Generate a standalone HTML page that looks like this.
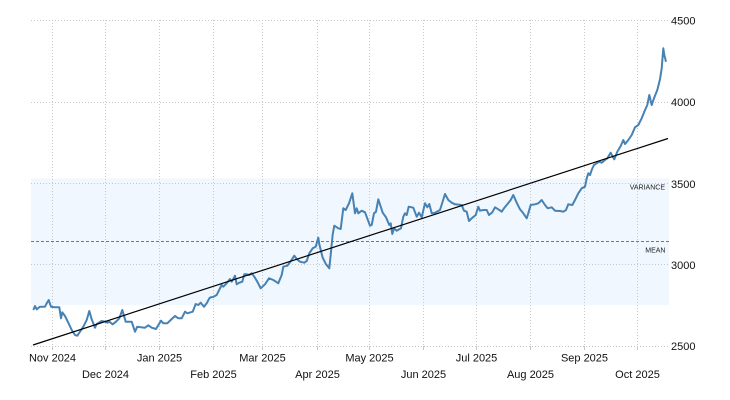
<!DOCTYPE html>
<html><head><meta charset="utf-8"><style>
html,body{margin:0;padding:0;background:#fff;}
svg{display:block;}
text{font-family:"Liberation Sans",Arial,sans-serif;}
</style></head><body>
<svg width="730" height="400" viewBox="0 0 730 400" xmlns="http://www.w3.org/2000/svg">
<rect x="0" y="0" width="730" height="400" fill="#fff"/>
<rect x="31" y="178.5" width="638" height="126.5" fill="#f0f7fe"/>
<g stroke="#c8c8c8" stroke-width="1" stroke-dasharray="1,2" fill="none">
<line x1="31" y1="20.5" x2="669" y2="20.5"/>
<line x1="31" y1="102.5" x2="669" y2="102.5"/>
<line x1="31" y1="183.5" x2="669" y2="183.5"/>
<line x1="31" y1="264.5" x2="669" y2="264.5"/>
<line x1="31" y1="346.5" x2="669" y2="346.5"/>
<line x1="52.5" y1="20" x2="52.5" y2="346"/>
<line x1="105.5" y1="20" x2="105.5" y2="346"/>
<line x1="159.5" y1="20" x2="159.5" y2="346"/>
<line x1="213.5" y1="20" x2="213.5" y2="346"/>
<line x1="262.5" y1="20" x2="262.5" y2="346"/>
<line x1="317.5" y1="20" x2="317.5" y2="346"/>
<line x1="369.5" y1="20" x2="369.5" y2="346"/>
<line x1="423.5" y1="20" x2="423.5" y2="346"/>
<line x1="476.5" y1="20" x2="476.5" y2="346"/>
<line x1="530.5" y1="20" x2="530.5" y2="346"/>
<line x1="584.5" y1="20" x2="584.5" y2="346"/>
<line x1="637.5" y1="20" x2="637.5" y2="346"/>
</g>
<g stroke="#c8c8c8" stroke-width="1">
<line x1="52.5" y1="346" x2="52.5" y2="350"/>
<line x1="105.5" y1="346" x2="105.5" y2="350"/>
<line x1="159.5" y1="346" x2="159.5" y2="350"/>
<line x1="213.5" y1="346" x2="213.5" y2="350"/>
<line x1="262.5" y1="346" x2="262.5" y2="350"/>
<line x1="317.5" y1="346" x2="317.5" y2="350"/>
<line x1="369.5" y1="346" x2="369.5" y2="350"/>
<line x1="423.5" y1="346" x2="423.5" y2="350"/>
<line x1="476.5" y1="346" x2="476.5" y2="350"/>
<line x1="530.5" y1="346" x2="530.5" y2="350"/>
<line x1="584.5" y1="346" x2="584.5" y2="350"/>
<line x1="637.5" y1="346" x2="637.5" y2="350"/>
</g>
<line x1="31" y1="241.5" x2="669" y2="241.5" stroke="#777" stroke-width="1" stroke-dasharray="3,2"/>
<text x="665" y="189.5" font-size="7" fill="#222" text-anchor="end">VARIANCE</text>
<text x="665.5" y="252.5" font-size="7" fill="#222" text-anchor="end">MEAN</text>
<polyline fill="none" stroke="#4682b4" stroke-width="2" stroke-linejoin="round" points="
33.3,310 35,306 36.7,309.3 40,306.7 45,306.7 46.7,303.3 48.7,300 51,306.7 55,307.3 59.3,307.3 61,318.3 62.3,312.3 65,316 68.3,322.7 71.7,330 75,335 77.3,335.7 80,331.7 83.3,326.7 86.7,320 89.3,311 91.7,319.3 95,327.7 96.7,324 101.7,321 105,321.7 107.7,322.7 109.3,321.7 112.7,324.3 116,321.7 119.3,318.3 122.3,310 125.7,321.7 131.7,321.7 135,331.7 137.3,326.7 141,327.3 145,327.7 148.3,325.3 151.7,327.7 156,329 161,320.7 163.3,323.3 167.3,323.3 170.7,320 175,316 178.3,318.3 181.7,318.3 185,311.7 187.3,313.3 192.7,311.7 195.7,304 198.3,305 200.7,302.7 204,306.7 206.7,303.3 209.3,298.3 210.7,297.3 213,297 216.7,295 218.3,291.7 221.7,285 223.3,286.7 226.7,283.3 230,279 231.7,281.7 235,275.7 236.7,284.3 239.3,282.7 242.3,281.7 244.3,274.3 246.7,274.3 249.3,275 251.7,273.3 254.3,276.7 257.3,281.7 260.7,288.3 265,284.3 269,278.3 273.3,280 276,281.7 278.3,283.3 281.7,275 283.3,266.7 287.3,265.7 290,262.3 294.3,255.7 296.7,259 300,261.7 304.3,262.7 306.7,261 309.3,253.3 312.7,248.3 315.7,246.7 318.3,237.7 319.3,244.3 322.7,257.7 326,264.3 329.3,268.3 331,251.7 332.7,234.3 334.3,225.7 338.3,228.3 340.7,229 343.3,208.3 345.7,210 349,203.3 352.3,193.3 355,213.3 356.7,208.3 358.3,213.3 361.7,210.7 365,212.3 370,225.7 371.7,225 374,213.3 376,211.7 378.3,199.3 382.7,212.7 386,217.3 389.3,225 390.7,223.3 392.3,234 394,228.3 396.7,230.7 401,228.3 403.3,216.7 405,213.3 406.7,215 408.7,206.7 413.3,207.7 416.7,216.7 419,212.7 421.7,217.3 425,203.3 427.3,207.3 429.3,204 431.7,213.3 435,212.7 440,210 445,194 448.3,200 451.7,202.7 455,204.3 461.7,205 464,210.7 466.7,211.7 469,221 471.7,218.3 475.7,215 478.3,206.7 480,210.7 483.3,210 486.7,210 489,215 492.3,212.3 495,207.3 498.3,209.3 501.7,211.7 504,208.3 507.3,204.3 510.7,200 513.3,195 516.7,202.7 520,209.3 523.3,213.3 526.7,218.3 528.3,213.3 530.7,205 535,204.3 538.3,203.3 541.7,200 545,205 547.7,208.3 551.7,207.3 555,210.7 560,211 563.3,211.7 566,210 568.3,204.3 572.3,205 575,200 578.3,193.3 581.7,188.3 585,186.7 586.7,178.3 588.3,173.3 590,175 591.7,170 594,165 596.7,163.3 599.3,161.7 601.7,162.7 605,160 607.3,158.3 610.7,152.7 612.7,156.7 614.3,159.3 617.3,151.7 620.7,146 623.3,140 625,144 628.3,140 631.7,135 635,127.3 638.3,125 641.7,118.3 644.3,111.7 647.3,105 649.3,95 651.7,105 654,98.3 657.3,90 660,79.3 661.7,68.3 663.3,48.3 664.3,55 666,61.7"/>
<line x1="33" y1="345" x2="668" y2="138.5" stroke="#000" stroke-width="1.2"/>
<g font-size="11" fill="#111">
<text x="671" y="24.5">4500</text>
<text x="671" y="106">4000</text>
<text x="671" y="188">3500</text>
<text x="671" y="269">3000</text>
<text x="671" y="350">2500</text>
</g>
<g font-size="11" fill="#111" text-anchor="middle">
<text x="52.5" y="361.5">Nov 2024</text>
<text x="159.5" y="361.5">Jan 2025</text>
<text x="262.5" y="361.5">Mar 2025</text>
<text x="369.5" y="361.5">May 2025</text>
<text x="476.5" y="361.5">Jul 2025</text>
<text x="584.5" y="361.5">Sep 2025</text>
<text x="105.5" y="378">Dec 2024</text>
<text x="213.5" y="378">Feb 2025</text>
<text x="317.5" y="378">Apr 2025</text>
<text x="423.5" y="378">Jun 2025</text>
<text x="530.5" y="378">Aug 2025</text>
<text x="637.5" y="378">Oct 2025</text>
</g>
</svg>
</body></html>
